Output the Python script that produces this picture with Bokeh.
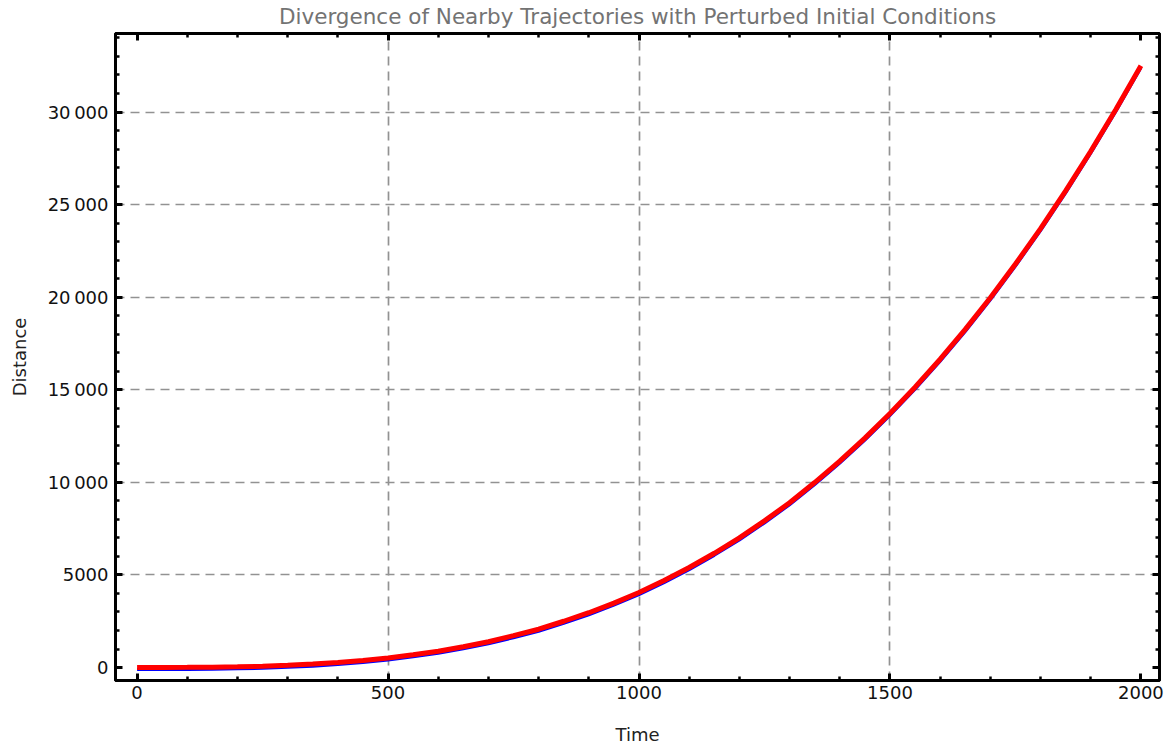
from bokeh.plotting import figure
from bokeh.models import Range1d, FixedTicker, LinearAxis, CustomLabelingPolicy
from bokeh.embed import file_html
from bokeh.resources import INLINE

# ---- data ----
time = [0, 50, 100, 150, 200, 250, 300, 350, 400, 450, 500, 550, 600, 650, 700,
        750, 800, 850, 900, 950, 1000, 1050, 1100, 1150, 1200, 1250, 1300, 1350,
        1400, 1450, 1500, 1550, 1600, 1650, 1700, 1750, 1800, 1850, 1900, 1950, 2000]
dist_red = [0, 5, 10, 20, 40, 70, 120, 185, 270, 380, 520, 690, 880, 1120, 1390,
            1720, 2070, 2500, 2960, 3480, 4050, 4700, 5400, 6170, 7000, 7920, 8900,
            9990, 11150, 12390, 13720, 15140, 16650, 18260, 19970, 21790, 23700,
            25740, 27880, 30140, 32500]
dist_blue = [-110, -105, -100, -90, -70, -40, 10, 75, 160, 270, 410, 580, 770,
             1010, 1280, 1610, 1960, 2390, 2850, 3370, 3940, 4590, 5290, 6060,
             6890, 7810, 8790, 9880, 11040, 12280, 13610, 15030, 16540, 18150,
             19860, 21680, 23590, 25630, 27770, 30030, 32390]

x_major = [0, 500, 1000, 1500, 2000]
x_minor = [0, 100, 200, 300, 400, 500, 600, 700, 800, 900, 1000, 1100, 1200,
           1300, 1400, 1500, 1600, 1700, 1800, 1900, 2000]
y_major = [0, 5000, 10000, 15000, 20000, 25000, 30000]
y_minor = [0, 1000, 2000, 3000, 4000, 5000, 6000, 7000, 8000, 9000, 10000,
           11000, 12000, 13000, 14000, 15000, 16000, 17000, 18000, 19000, 20000,
           21000, 22000, 23000, 24000, 25000, 26000, 27000, 28000, 29000, 30000,
           31000, 32000, 33000, 34000]
y_labels = {0: "0", 5000: "5000", 10000: "10\u2009000", 15000: "15\u2009000",
            20000: "20\u2009000", 25000: "25\u2009000", 30000: "30\u2009000"}
x_grid = [500, 1000, 1500]
y_grid = [5000, 10000, 15000, 20000, 25000, 30000]

FONT = "DejaVu Sans"

p = figure(width=1167, height=749, output_backend="svg", toolbar_location=None,
           x_range=Range1d(-43, 2037), y_range=Range1d(-700, 34240),
           min_border_left=115, min_border_right=8, min_border_top=33,
           min_border_bottom=69,
           title="Divergence of Nearby Trajectories with Perturbed Initial Conditions")

p.title.align = "center"
p.title.text_font = FONT
p.title.text_font_size = "21.5px"
p.title.text_font_style = "normal"
p.title.text_color = "#737373"
p.title.standoff = 2

p.outline_line_color = "black"
p.outline_line_width = 3
p.background_fill_color = "white"
p.border_fill_color = "white"

no_labels = CustomLabelingPolicy(code="return new Set()")


def style_axis(ax, major, minor, show_labels=True):
    ax.ticker = FixedTicker(ticks=major, minor_ticks=minor)
    ax.axis_line_color = "black"
    ax.axis_line_width = 3
    ax.major_tick_in = 7
    ax.major_tick_out = 0
    ax.minor_tick_in = 4
    ax.minor_tick_out = 0
    ax.major_tick_line_width = 3
    ax.minor_tick_line_width = 2.5
    ax.major_tick_line_color = "black"
    ax.minor_tick_line_color = "black"
    if show_labels:
        ax.major_label_text_font = FONT
        ax.major_label_text_font_size = "18px"
        ax.major_label_text_color = "#111111"
        ax.axis_label_text_font = FONT
        ax.axis_label_text_font_size = "18px"
        ax.axis_label_text_font_style = "normal"
        ax.axis_label_text_color = "#222222"
    else:
        ax.major_label_policy = no_labels
        ax.major_label_text_font_size = "1px"
        ax.major_label_standoff = 0


xa = p.xaxis[0]
style_axis(xa, x_major, x_minor)
xa.axis_label = "Time"
xa.major_label_standoff = 5
xa.axis_label_standoff = 22

ya = p.yaxis[0]
style_axis(ya, y_major, y_minor)
ya.axis_label = "Distance"
ya.major_label_overrides = y_labels
ya.major_label_standoff = 7
ya.axis_label_standoff = 15

top = LinearAxis()
style_axis(top, x_major, x_minor, show_labels=False)
p.add_layout(top, "above")
right = LinearAxis()
style_axis(right, y_major, y_minor, show_labels=False)
p.add_layout(right, "right")

p.xgrid.ticker = FixedTicker(ticks=x_grid)
p.ygrid.ticker = FixedTicker(ticks=y_grid)
for g in (p.xgrid, p.ygrid):
    g.grid_line_color = "#929292"
    g.grid_line_width = 1.7
    g.grid_line_dash = "9 6"

p.line(time, dist_blue, line_color="#0000ff", line_width=3)
p.line(time, dist_red, line_color="#ff0000", line_width=5)

open("out.html", "w").write(file_html(p, INLINE))
